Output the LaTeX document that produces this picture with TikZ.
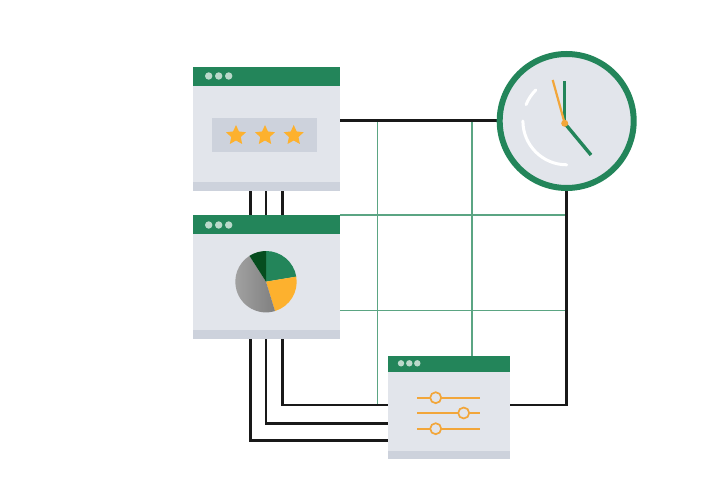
\documentclass[tikz,border=0pt]{standalone}
\usepackage{tikz}
\usetikzlibrary{shapes.geometric}
\pgfdeclarelayer{bg}
\pgfsetlayers{bg,main}
\definecolor{leaf}{HTML}{23855A}
\definecolor{fern}{HTML}{5BA583}
\definecolor{pine}{HTML}{064D1F}
\definecolor{amber}{HTML}{FDB12E}
\definecolor{rust}{HTML}{F2A63A}
\definecolor{pane}{HTML}{E2E5EB}
\definecolor{slate}{HTML}{CDD2DC}
\definecolor{pip}{HTML}{BBD9CB}
\tikzset{
  box/.style={draw=none, rectangle, minimum size=0mm, inner sep=0mm, outer sep=0mm, anchor=north west},
  window/.style={box, fill=pane},
  titlebar/.style={box, fill=leaf},
  footbar/.style={box, fill=slate},
  dot/.style={draw=none, fill=pip, circle, minimum size=7.4pt, inner sep=0mm},
  rating/.style={draw=none, fill=amber, star, star points=5, star point ratio=2.1, minimum size=21pt, inner sep=0mm},
  knob/.style={draw=rust, fill=pane, circle, line width=1.7pt, minimum size=11pt, inner sep=0mm},
  wire/.style={black!90, line width=2.5pt},
  gridline/.style={fern, line width=1.2pt},
  track/.style={rust, line width=1.9pt}
}

\begin{document}
\begin{tikzpicture}[x=1pt, y=1pt]
  \useasboundingbox (0, 0) rectangle (720, 480);

  \node (rate) [window, minimum width=147pt, minimum height=124pt] at (192.5, 413.3) {};
  \node (rateT) [titlebar, minimum width=147pt, minimum height=19pt] at (192.5, 413.3) {};
  \node (rateF) [footbar, minimum width=147pt, minimum height=9pt] at (192.5, 298.3) {};
  \node (rate1) [dot] at (208.7, 404) {};
  \node (rate2) [dot] at (218.7, 404) {};
  \node (rate3) [dot] at (228.7, 404) {};
  \node (panel) [box, fill=slate, minimum width=105pt, minimum height=33.4pt] at (212.3, 361.7) {};
  \node (star1) [rating] at (236, 344.5) {};
  \node (star2) [rating] at (265, 344.5) {};
  \node (star3) [rating] at (293.7, 344.5) {};

  \node (chart) [window, minimum width=147pt, minimum height=124.3pt] at (192.5, 265) {};
  \node (chartT) [titlebar, minimum width=147pt, minimum height=19.3pt] at (192.5, 265) {};
  \node (chartF) [footbar, minimum width=147pt, minimum height=9pt] at (192.5, 149.7) {};
  \node (chart1) [dot] at (208.7, 255) {};
  \node (chart2) [dot] at (218.7, 255) {};
  \node (chart3) [dot] at (228.7, 255) {};
  \node (pie) [draw=none, fill=none, minimum size=0mm, inner sep=0mm] at (266, 198.3) {};

  \fill [leaf] (pie.center) -- ++(90:30.7) arc (90:9.5:30.7) -- cycle;
  \fill [amber] (pie.center) -- ++(9.5:30.7) arc (9.5:-73:30.7) -- cycle;
  \shade [left color=black!36, right color=black!50] (pie.center) -- ++(-73:30.7) arc (-73:-237.4:30.7) -- cycle;
  \fill [pine] (pie.center) -- ++(122.6:30.7) arc (122.6:90:30.7) -- cycle;

  \node (tune) [window, minimum width=122.3pt, minimum height=103.6pt] at (387.7, 124.3) {};
  \node (tuneT) [titlebar, minimum width=122.3pt, minimum height=16pt] at (387.7, 124.3) {};
  \node (tuneF) [footbar, minimum width=122.3pt, minimum height=8.3pt] at (387.7, 29) {};
  \node (tune1) [dot, minimum size=6.4pt] at (401, 116.7) {};
  \node (tune2) [dot, minimum size=6.4pt] at (409.3, 116.7) {};
  \node (tune3) [dot, minimum size=6.4pt] at (417.3, 116.7) {};

  \coordinate (t1l) at (417.3, 82.3);
  \coordinate (t1r) at (480, 82.3);
  \coordinate (t2l) at (417.3, 67);
  \coordinate (t2r) at (480, 67);
  \coordinate (t3l) at (417.3, 51.3);
  \coordinate (t3r) at (480, 51.3);
  \draw [track] (t1l) -- (t1r);
  \draw [track] (t2l) -- (t2r);
  \draw [track] (t3l) -- (t3r);
  \node (knob1) [knob] at (435.7, 82.3) {};
  \node (knob2) [knob] at (463.7, 67) {};
  \node (knob3) [knob] at (435.7, 51.3) {};

  \node (clock) [draw=leaf, fill=pane, circle, line width=6pt, minimum size=134pt, inner sep=0mm] at (566.7, 359) {};
  \coordinate (hub) at (564.7, 356.7);
  \coordinate (hourtip) at (564.7, 399);
  \coordinate (mintip) at (591, 325);
  \coordinate (sectip) at (552.7, 400);
  \draw [white, line width=3pt, line cap=round] ([shift={(180:43.8)}]clock.center) arc (180:270:43.8);
  \draw [white, line width=3pt, line cap=round] ([shift={(158:43.8)}]clock.center) arc (158:135:43.8);
  \draw [leaf, line width=3.4pt] (hub) -- (hourtip);
  \draw [leaf, line width=3.4pt] (hub) -- (mintip);
  \draw [rust, line width=2.2pt] (hub) -- (sectip);
  \node (pin) [draw=none, fill=rust, circle, minimum size=7pt, inner sep=0mm] at (hub) {};

  \coordinate (g1a) at (377.3, 360);
  \coordinate (g1b) at (377.3, 75);
  \coordinate (g2a) at (472, 360);
  \coordinate (g2b) at (472, 124.3);
  \coordinate (h1a) at (339.5, 265);
  \coordinate (h1b) at (567, 265);
  \coordinate (h2a) at (339.5, 169.3);
  \coordinate (h2b) at (567, 169.3);

  \coordinate (r1) at (250.7, 289.3);
  \coordinate (r2) at (266, 289.3);
  \coordinate (r3) at (282.7, 289.3);
  \coordinate (c1) at (250.7, 265);
  \coordinate (c2) at (266, 265);
  \coordinate (c3) at (282.7, 265);
  \coordinate (d1) at (250.7, 140.7);
  \coordinate (d2) at (266, 140.7);
  \coordinate (d3) at (282.7, 140.7);
  \coordinate (s1) at (387.7, 39.7);
  \coordinate (s2) at (387.7, 56.7);
  \coordinate (s3) at (387.7, 75);
  \coordinate (s4) at (510, 75);
  \coordinate (r4) at (339.5, 359.5);
  \coordinate (k4) at (520, 359.5);

  \begin{pgfonlayer}{bg}
    \draw [gridline] (g1a) -- (g1b);
    \draw [gridline] (g2a) -- (g2b);
    \draw [gridline] (h1a) -- (h1b);
    \draw [gridline] (h2a) -- (h2b);

    \draw [wire] (r1) -- (c1);
    \draw [wire] (r2) -- (c2);
    \draw [wire] (r3) -- (c3);
    \draw [wire] (d1) |- (s1);
    \draw [wire] (d2) |- (s2);
    \draw [wire] (d3) |- (s3);
    \draw [wire] (r4) -- (k4);
    \draw [wire] (clock.south) |- (s4);
  \end{pgfonlayer}
\end{tikzpicture}
\end{document}
